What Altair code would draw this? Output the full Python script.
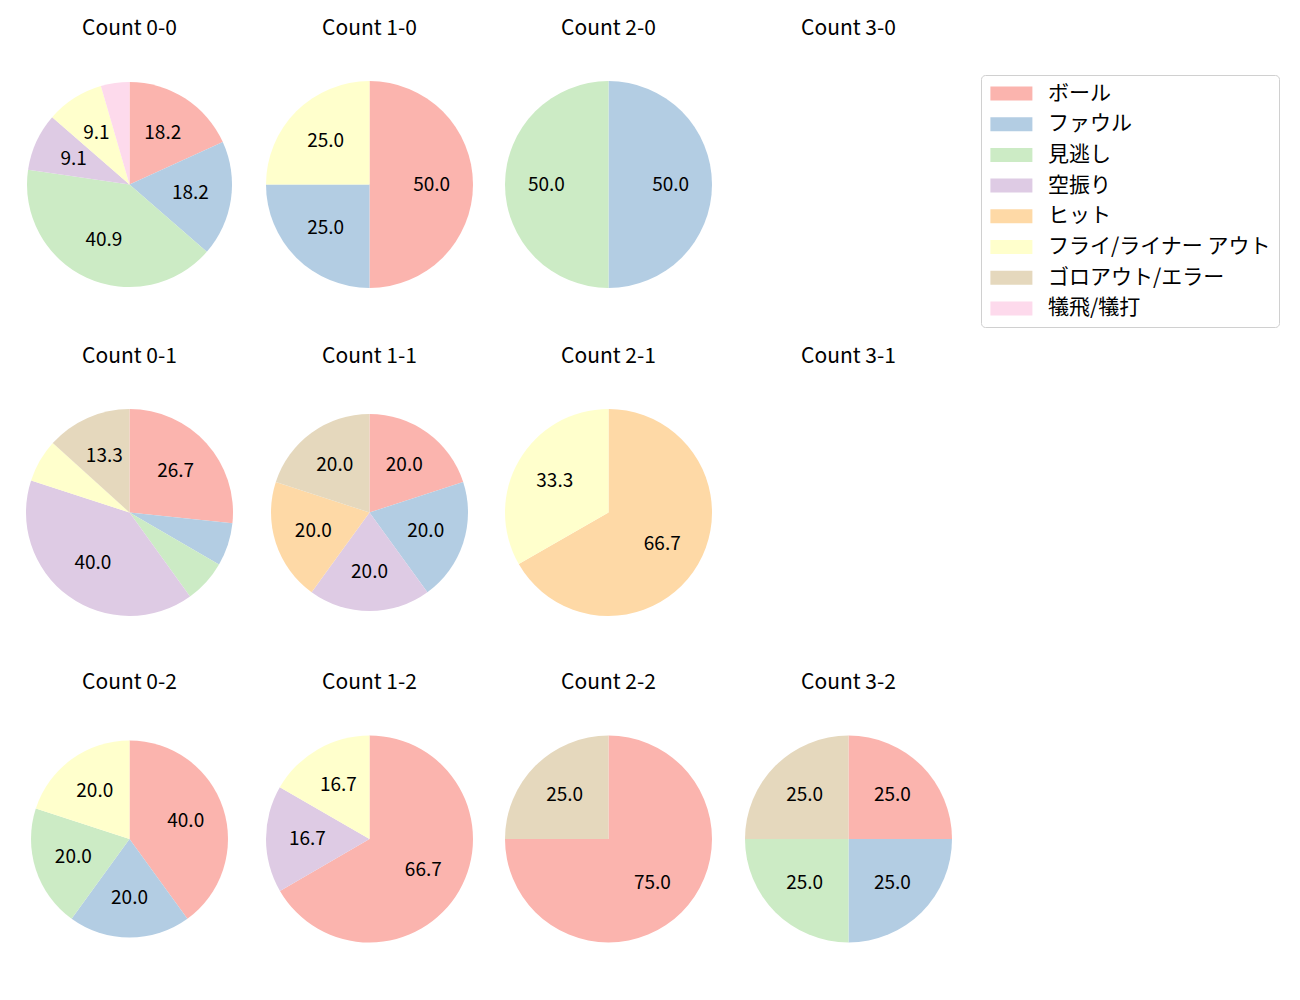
import altair as alt
import pandas as pd

categories = ["ボール", "ファウル", "見逃し", "空振り", "ヒット",
              "フライ/ライナー アウト", "ゴロアウト/エラー", "犠飛/犠打"]
palette = ["#fbb4ae", "#b3cde3", "#ccebc5", "#decbe4", "#fed9a6",
           "#ffffcc", "#e5d8bd", "#fddaec"]

panel_titles = ["Count 0-0", "Count 1-0", "Count 2-0", "Count 3-0",
                "Count 0-1", "Count 1-1", "Count 2-1", "Count 3-1",
                "Count 0-2", "Count 1-2", "Count 2-2", "Count 3-2"]

# percentages per category (same order as categories)
pct_0_0 = [18.2, 18.2, 40.9, 9.1, 0.0, 9.1, 0.0, 4.5]
pct_1_0 = [50.0, 25.0, 0.0, 0.0, 0.0, 25.0, 0.0, 0.0]
pct_2_0 = [0.0, 50.0, 50.0, 0.0, 0.0, 0.0, 0.0, 0.0]
pct_3_0 = [0.0, 0.0, 0.0, 0.0, 0.0, 0.0, 0.0, 0.0]
pct_0_1 = [26.7, 6.7, 6.7, 40.0, 0.0, 6.7, 13.3, 0.0]
pct_1_1 = [20.0, 20.0, 0.0, 20.0, 20.0, 0.0, 20.0, 0.0]
pct_2_1 = [0.0, 0.0, 0.0, 0.0, 66.7, 33.3, 0.0, 0.0]
pct_3_1 = [0.0, 0.0, 0.0, 0.0, 0.0, 0.0, 0.0, 0.0]
pct_0_2 = [40.0, 20.0, 20.0, 0.0, 0.0, 20.0, 0.0, 0.0]
pct_1_2 = [66.7, 0.0, 0.0, 16.7, 0.0, 16.7, 0.0, 0.0]
pct_2_2 = [75.0, 0.0, 0.0, 0.0, 0.0, 0.0, 25.0, 0.0]
pct_3_2 = [25.0, 25.0, 25.0, 0.0, 0.0, 0.0, 25.0, 0.0]

all_pcts = [pct_0_0, pct_1_0, pct_2_0, pct_3_0,
            pct_0_1, pct_1_1, pct_2_1, pct_3_1,
            pct_0_2, pct_1_2, pct_2_2, pct_3_2]

FONT = "Noto Sans CJK JP"

# layout (chart coordinates; page offset 8px)
col_x = [121.5, 361.5, 600.5, 840.5]
row_y = [176.5, 504.5, 831.0]
title_dy = -156
default_r = 103.5
radius_override = {"Count 0-0": 102.5, "Count 1-1": 98.5, "Count 0-2": 98.5}

color_enc = alt.Color(
    "cat:N",
    scale=alt.Scale(domain=categories, range=palette),
    legend=alt.Legend(
        title=None, orient="none", legendX=973, legendY=67,
        symbolType="M-1.3,-1H4.7V1H-1.3Z", symbolSize=196,
        symbolStrokeWidth=0, symbolOpacity=1,
        labelFont=FONT, labelFontSize=21, labelColor="black",
        labelLimit=400, labelOffset=38, rowPadding=8.7,
        padding=8, strokeColor="#d0d0d0", cornerRadius=4,
        fillColor="white",
    ),
)

layers = []
for i, (title, pcts) in enumerate(zip(panel_titles, all_pcts)):
    cx = col_x[i % 4]
    cy = row_y[i // 4]
    r = radius_override.get(title, default_r)
    rows = [{"cat": c, "pct": p, "idx": k}
            for k, (c, p) in enumerate(zip(categories, pcts)) if p > 0]
    if rows:
        df = pd.DataFrame(rows)
        base = alt.Chart(df).transform_calculate(
            label="datum.pct >= 8 ? format(datum.pct, '.1f') : ''"
        ).encode(
            theta=alt.Theta("pct:Q", stack="normalize"),
            order=alt.Order("idx:Q", sort="ascending"),
            x=alt.value(cx),
            y=alt.value(cy),
        )
        arc = base.mark_arc(outerRadius=r).encode(color=color_enc)
        txt = base.mark_text(radius=0.6 * r, font=FONT, fontSize=19,
                             color="black", baseline="middle",
                             align="center").encode(
            text="label:N", detail="cat:N")
        layers += [arc, txt]
    ttl = alt.Chart(pd.DataFrame({"t": [title]})).mark_text(
        font=FONT, fontSize=21, color="black", baseline="middle",
        align="center").encode(text="t:N", x=alt.value(cx),
                               y=alt.value(cy + title_dy))
    layers.append(ttl)

chart = alt.layer(*layers).properties(
    width=1280, height=980, padding=0,
    autosize=alt.AutoSizeParams(type="none"),
).configure_view(stroke=None)

chart.save("out.html", embed_options={"renderer": "svg", "actions": False})
